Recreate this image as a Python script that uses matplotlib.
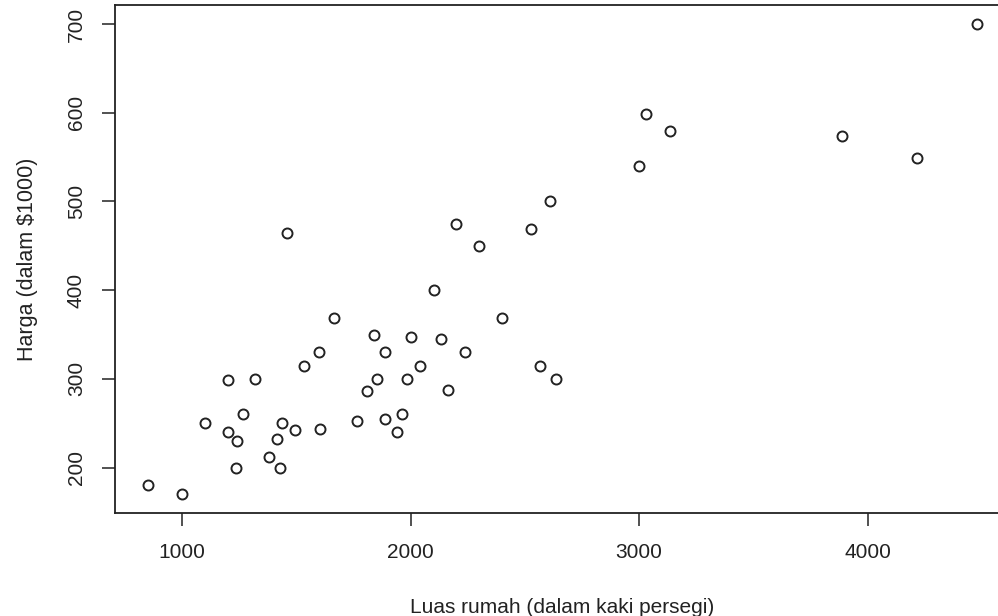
import matplotlib
matplotlib.use("Agg")
import matplotlib.pyplot as plt

plt.rcParams['font.family'] = ['Liberation Sans', 'DejaVu Sans']

# House size (sq ft) and price (in $1000)
luas = [2104, 1600, 2400, 1416, 3000, 1985, 1534, 1427, 1380, 1494, 1940, 2000,
        1890, 4478, 1268, 2300, 1320, 1236, 2609, 3031, 1767, 1888, 1604, 1962,
        3890, 1100, 1458, 2526, 2200, 2637, 1839, 1000, 2040, 3137, 1811, 1437,
        1239, 2132, 4215, 2162, 1664, 2238, 2567, 1200, 852, 1852, 1203]
harga = [399.9, 329.9, 369.0, 232.0, 539.9, 299.9, 314.9, 198.999, 212.0, 242.5,
         239.999, 347.0, 329.999, 699.9, 259.9, 449.9, 299.9, 199.9, 499.998,
         599.0, 252.9, 255.0, 242.9, 259.9, 573.9, 249.9, 464.5, 469.0, 475.0,
         299.9, 349.9, 169.9, 314.9, 579.9, 285.9, 249.9, 229.9, 345.0, 549.0,
         287.0, 368.5, 329.9, 314.0, 299.0, 179.9, 299.9, 239.5]
xticks = [1000, 2000, 3000, 4000]
yticks = [200, 300, 400, 500, 600, 700]

W, H = 998, 616
fig = plt.figure(figsize=(W / 100, H / 100), dpi=100)
ax = fig.add_axes([115 / W, (H - 513) / H, 895 / W, 507.6 / H])

ax.plot(luas, harga, linestyle='none', marker='o', markersize=7.2,
        markerfacecolor='none', markeredgecolor='#222222', markeredgewidth=1.4)

# R-style 4% padding around the data range
xr = max(luas) - min(luas)
yr = max(harga) - min(harga)
ax.set_xlim(min(luas) - 0.04 * xr, max(luas) + 0.04 * xr)
ax.set_ylim(min(harga) - 0.04 * yr, max(harga) + 0.04 * yr)

ax.set_xticks(xticks)
ax.set_yticks(yticks)
ax.set_xticklabels([str(v) for v in xticks])
ax.set_yticklabels([str(v) for v in yticks], rotation=90, va='center')
ax.tick_params(axis='both', direction='out', length=9.5, width=1.1,
               color='#222222', labelsize=15, labelcolor='#222222')
ax.tick_params(axis='x', pad=12)
ax.tick_params(axis='y', pad=11.5)

for s in ax.spines.values():
    s.set_linewidth(1.3)
    s.set_color('#222222')

ax.set_xlabel('Luas rumah (dalam kaki persegi)', fontsize=15, color='#222222', labelpad=26)
ax.set_ylabel('Harga (dalam $1000)', fontsize=15.5, color='#222222', labelpad=21)

fig.savefig('out.png', dpi=100)
